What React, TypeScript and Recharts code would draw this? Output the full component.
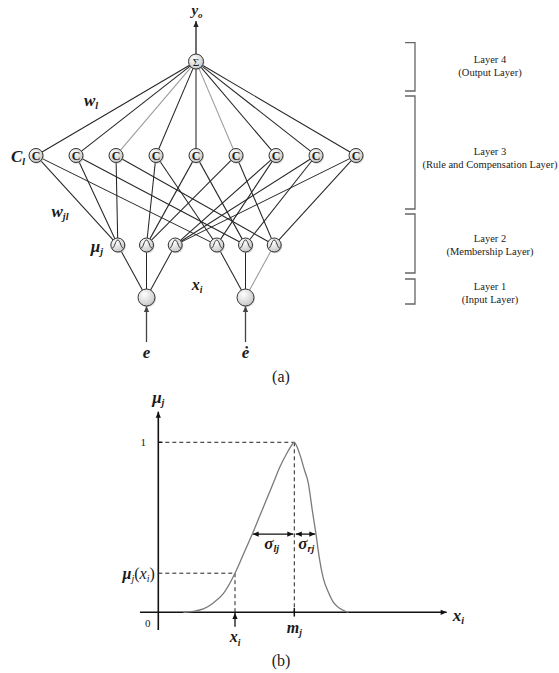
import React from 'react';
import { ComposedChart, LineChart, Line, Scatter, XAxis, YAxis, ReferenceLine, ReferenceDot } from 'recharts';

// (a) network structure
const inputLabels = ['e', 'ė'];
const membershipInputs = [0, 0, 0, 1, 1, 1];
const ruleSymbols = ['C', 'C', 'C', 'C', 'C', 'C', 'C', 'C', 'C'];
const ruleLinks = [[0, 3], [0, 4], [0, 5], [1, 3], [1, 4], [1, 5], [2, 3], [2, 4], [2, 5]];
const layerTitles = ['Layer 4', 'Layer 3', 'Layer 2', 'Layer 1'];
const layerSubtitles = ['(Output Layer)', '(Rule and Compensation Layer)', '(Membership Layer)', '(Input Layer)'];

// (b) membership function
const curveX = [25, 35, 45, 55, 65, 76.7, 85, 94, 101, 108, 115, 122, 128, 132, 136, 139, 142, 146, 150, 154, 157.7, 161, 165, 170, 175, 181, 190];
const curveMu = [0, 0.006, 0.02, 0.055, 0.11, 0.23, 0.34, 0.46, 0.56, 0.66, 0.76, 0.86, 0.93, 0.97, 1, 0.97, 0.92, 0.84, 0.76, 0.6, 0.46, 0.32, 0.2, 0.12, 0.06, 0.025, 0];
const centerM = 136;
const sampleXi = 76.7;
const sampleMu = 0.23;
const sigmaLevel = 0.46;
const sigmaLeftEdge = 94.4;
const sigmaRightEdge = 157;

const curveData = curveX.map((x, i) => ({ x, mu: curveMu[i] }));

// layout of part (a), in pixels
const W = 559;
const A_H = 385;
const CX = 196;
const Y_SUM = 61.5, Y_RULE = 155.5, Y_MU = 245, Y_IN = 297.5;
const RULE_GAP = 40, MU_GAP = 28.7, IN_HALF = 49.5;
const R_SUM = 7.5, R_RULE = 7, R_MU = 7, R_IN = 8.5;
const SERIF = 'Liberation Serif, Times New Roman, serif';
const INK = '#1a1a1a';

const inputNodes = inputLabels.map((label, i) => ({ x: CX + (i === 0 ? -1 : 1) * IN_HALF, y: Y_IN, label }));
const muNodes = membershipInputs.map((inp, j) => ({ x: inputNodes[inp].x + ((j % 3) - 1) * MU_GAP, y: Y_MU }));
const ruleNodes = ruleSymbols.map((label, k) => ({ x: CX + (k - 4) * RULE_GAP, y: Y_RULE, label }));
const sumNode = [{ x: CX, y: Y_SUM, label: 'Σ' }];

const trim = (a: any, ra: number, b: any, rb: number) => {
  const dx = b.x - a.x, dy = b.y - a.y, L = Math.hypot(dx, dy);
  return [
    { x: a.x + (dx * ra) / L, y: a.y + (dy * ra) / L },
    { x: b.x - (dx * rb) / L, y: b.y - (dy * rb) / L },
  ];
};

const faintSum = [2, 5];
const edges: { seg: any[]; faint: boolean }[] = [];
ruleNodes.forEach((r, k) => edges.push({ seg: trim(sumNode[0], R_SUM, r, R_RULE), faint: faintSum.includes(k) }));
ruleNodes.forEach((r, k) => ruleLinks[k].forEach((m) => edges.push({ seg: trim(r, R_RULE, muNodes[m], R_MU), faint: false })));
muNodes.forEach((m, j) => edges.push({ seg: trim(m, R_MU, inputNodes[membershipInputs[j]], R_IN), faint: j === 5 }));

const brackets = [[42.7, 91], [96, 209], [214, 273], [279, 304]];
const layerMid = [66.3, 158, 245, 293];

const headPts = (xa: number, ya: number, xb: number, yb: number, L = 6, w = 2.6) => {
  const ang = Math.atan2(yb - ya, xb - xa);
  const bx = xb - L * Math.cos(ang), by = yb - L * Math.sin(ang);
  const px = -Math.sin(ang) * w, py = Math.cos(ang) * w;
  return `${xb},${yb} ${bx + px},${by + py} ${bx - px},${by - py}`;
};

const Arrow = (p: any) => {
  const { x1, y1, x2, y2, stroke, strokeWidth, both } = p;
  return (
    <g>
      <line x1={x1} y1={y1} x2={x2} y2={y2} stroke={stroke} strokeWidth={strokeWidth} />
      <polygon points={headPts(x1, y1, x2, y2)} fill={stroke} />
      {both && <polygon points={headPts(x2, y2, x1, y1)} fill={stroke} />}
    </g>
  );
};

const Bracket = (p: any) => {
  const { x1, y1, y2 } = p;
  return <path d={`M${x1 - 10},${y1} H${x1} V${y2} H${x1 - 10}`} fill="none" stroke="#666" strokeWidth={1.3} />;
};

const Grad = () => (
  <defs>
    <radialGradient id="nodeFill" cx="38%" cy="32%" r="75%">
      <stop offset="0%" stopColor="#ffffff" />
      <stop offset="100%" stopColor="#c4c4c4" />
    </radialGradient>
  </defs>
);

const Disc = ({ cx, cy, r }: any) => (
  <g>
    <Grad />
    <circle cx={cx + 1} cy={cy + 1.3} r={r} fill="#aaa" opacity={0.5} />
    <circle cx={cx} cy={cy} r={r} fill="url(#nodeFill)" stroke="#333" strokeWidth={1} />
  </g>
);

const SumShape = (p: any) => (
  <g>
    <Disc cx={p.cx} cy={p.cy} r={R_SUM} />
    <text x={p.cx} y={p.cy + 0.5} textAnchor="middle" dominantBaseline="central" fontFamily={SERIF} fontSize={11} fill={INK}>Σ</text>
  </g>
);

const RuleShape = (p: any) => (
  <g>
    <Disc cx={p.cx} cy={p.cy} r={R_RULE} />
    <text x={p.cx} y={p.cy + 0.5} textAnchor="middle" dominantBaseline="central" fontFamily={SERIF} fontWeight="bold" fontSize={12} fill={INK}>C</text>
  </g>
);

const MuShape = (p: any) => {
  const { cx, cy } = p;
  return (
    <g>
      <Disc cx={cx} cy={cy} r={R_MU} />
      <path
        d={`M${cx - 5.5},${cy + 3} C${cx - 3},${cy + 3} ${cx - 2.5},${cy - 5} ${cx},${cy - 5} C${cx + 2.5},${cy - 5} ${cx + 3},${cy + 3} ${cx + 5.5},${cy + 3}`}
        fill="none" stroke="#333" strokeWidth={1}
      />
    </g>
  );
};

const InputShape = (p: any) => <Disc cx={p.cx} cy={p.cy} r={R_IN} />;

const MathText = ({ cx, cy, base, sub, size = 16, bold = false, anchor = 'middle', italic = true }: any) => (
  <text x={cx} y={cy} textAnchor={anchor} dominantBaseline="central" fontFamily={SERIF}
    fontStyle={italic ? 'italic' : 'normal'} fontWeight={bold ? 'bold' : 'normal'} fontSize={size} fill={INK}>
    {base}
    {sub && <tspan fontSize={size * 0.6} dy={size * 0.3}>{sub}</tspan>}
  </text>
);

const lab = (x: number, y: number, props: any, key: string) => (
  <ReferenceDot key={key} x={x} y={y} ifOverflow="visible" shape={(p: any) => <MathText cx={p.cx} cy={p.cy} {...props} />} />
);

const MuOfX = (p: any) => (
  <text x={p.cx} y={p.cy} textAnchor="end" dominantBaseline="central" fontFamily={SERIF} fontSize={16} fill={INK}>
    <tspan fontStyle="italic" fontWeight="bold">μ</tspan>
    <tspan fontSize={10} dy={5} fontStyle="italic">j</tspan>
    <tspan dy={-5}>(</tspan>
    <tspan fontStyle="italic">x</tspan>
    <tspan fontSize={10} dy={5} fontStyle="italic">i</tspan>
    <tspan dy={-5}>)</tspan>
  </text>
);

export default function App() {
  return (
    <div style={{ position: 'absolute', left: 0, top: 0, width: W, height: 673, background: '#fff' }}>
      <div style={{ position: 'absolute', left: 0, top: 0 }}>
        <ComposedChart width={W} height={A_H} margin={{ top: 0, right: 0, bottom: 0, left: 0 }}>
          <XAxis type="number" dataKey="x" domain={[0, W]} allowDataOverflow hide />
          <YAxis type="number" dataKey="y" domain={[0, A_H]} allowDataOverflow reversed hide />
          {edges.map((e, i) => (
            <ReferenceLine key={`e${i}`} segment={e.seg} stroke={e.faint ? '#9a9a9a' : '#262626'} strokeWidth={1.05} ifOverflow="visible" />
          ))}
          <ReferenceLine segment={[{ x: CX, y: Y_SUM - R_SUM }, { x: CX, y: 21 }]} stroke="#222" strokeWidth={1.3} ifOverflow="visible" shape={(p: any) => <Arrow {...p} />} />
          {inputNodes.map((n, i) => (
            <ReferenceLine key={`in${i}`} segment={[{ x: n.x, y: 342 }, { x: n.x, y: Y_IN + R_IN }]} stroke="#444" strokeWidth={1.3} ifOverflow="visible" shape={(p: any) => <Arrow {...p} />} />
          ))}
          {brackets.map((b, i) => (
            <ReferenceLine key={`b${i}`} segment={[{ x: 415, y: b[0] }, { x: 415, y: b[1] }]} stroke="#666" ifOverflow="visible" shape={(p: any) => <Bracket {...p} />} />
          ))}
          {layerTitles.map((t, i) => (
            <ReferenceDot key={`l${i}`} x={490} y={layerMid[i]} ifOverflow="visible" shape={(p: any) => (
              <text textAnchor="middle" fontFamily={SERIF} fontSize={10.5} fill="#222">
                <tspan x={p.cx} y={p.cy - 6.5} dominantBaseline="central">{t}</tspan>
                <tspan x={p.cx} y={p.cy + 6.5} dominantBaseline="central">{layerSubtitles[i]}</tspan>
              </text>
            )} />
          ))}
          <Scatter data={inputNodes} isAnimationActive={false} shape={InputShape} />
          <Scatter data={muNodes} isAnimationActive={false} shape={MuShape} />
          <Scatter data={ruleNodes} isAnimationActive={false} shape={RuleShape} />
          <Scatter data={sumNode} isAnimationActive={false} shape={SumShape} />
          {lab(197, 10, { base: 'y', sub: 'o', size: 15, bold: true }, 'yo')}
          {lab(91, 100, { base: 'w', sub: 'l', size: 17, bold: true }, 'wl')}
          {lab(18, 156, { base: 'C', sub: 'l', size: 17, bold: true }, 'cl')}
          {lab(60, 211, { base: 'w', sub: 'jl', size: 17, bold: true }, 'wjl')}
          {lab(97, 246, { base: 'μ', sub: 'j', size: 17, bold: true }, 'muj')}
          {lab(197, 284, { base: 'x', sub: 'i', size: 16, bold: true }, 'xi')}
          {inputNodes.map((n, i) => lab(n.x, 352, { base: n.label, size: 17, bold: true }, `il${i}`))}
          {lab(281, 376, { base: '(a)', size: 16, italic: false }, 'a')}
        </ComposedChart>
      </div>
      <div style={{ position: 'absolute', left: 0, top: A_H }}>
        <LineChart width={W} height={673 - A_H} data={curveData} margin={{ top: 0, right: 0, bottom: 0, left: 0 }}>
          <XAxis type="number" dataKey="x" domain={[-158.3, 400.7]} allowDataOverflow hide />
          <YAxis type="number" domain={[-0.357, 1.337]} allowDataOverflow hide />
          <ReferenceLine segment={[{ x: 0, y: -0.104 }, { x: 0, y: 1.18 }]} stroke="#111" strokeWidth={1.6} ifOverflow="visible" shape={(p: any) => <Arrow {...p} />} />
          <ReferenceLine segment={[{ x: -18.3, y: 0 }, { x: 288.4, y: 0 }]} stroke="#111" strokeWidth={1.6} ifOverflow="visible" shape={(p: any) => <Arrow {...p} />} />
          <ReferenceLine segment={[{ x: 0, y: 1 }, { x: centerM, y: 1 }]} stroke="#222" strokeDasharray="4 3" ifOverflow="visible" />
          <ReferenceLine segment={[{ x: centerM, y: 1 }, { x: centerM, y: 0 }]} stroke="#222" strokeDasharray="4 3" ifOverflow="visible" />
          <ReferenceLine segment={[{ x: 0, y: sampleMu }, { x: sampleXi, y: sampleMu }]} stroke="#222" strokeDasharray="4 3" ifOverflow="visible" />
          <ReferenceLine segment={[{ x: sampleXi, y: sampleMu }, { x: sampleXi, y: 0 }]} stroke="#222" strokeDasharray="4 3" ifOverflow="visible" />
          <ReferenceLine segment={[{ x: 0, y: 1 }, { x: 4, y: 1 }]} stroke="#111" strokeWidth={1.3} ifOverflow="visible" />
          <ReferenceLine segment={[{ x: centerM, y: -0.025 }, { x: centerM, y: 0.025 }]} stroke="#111" strokeWidth={1.5} ifOverflow="visible" />
          <ReferenceLine segment={[{ x: sampleXi, y: -0.085 }, { x: sampleXi, y: -0.004 }]} stroke="#111" strokeWidth={1.3} ifOverflow="visible" shape={(p: any) => <Arrow {...p} />} />
          <ReferenceLine segment={[{ x: sigmaLeftEdge, y: sigmaLevel }, { x: centerM - 1, y: sigmaLevel }]} stroke="#111" strokeWidth={1.3} ifOverflow="visible" shape={(p: any) => <Arrow {...p} both />} />
          <ReferenceLine segment={[{ x: centerM + 1.5, y: sigmaLevel }, { x: sigmaRightEdge, y: sigmaLevel }]} stroke="#111" strokeWidth={1.3} ifOverflow="visible" shape={(p: any) => <Arrow {...p} both />} />
          <Line type="monotone" dataKey="mu" stroke="#7a7a7a" strokeWidth={1.3} dot={false} isAnimationActive={false} />
          {lab(0, 1.266, { base: 'μ', sub: 'j', size: 17, bold: true }, 'bmu')}
          {lab(-15, 1, { base: '1', size: 11, italic: false }, 'one')}
          {lab(-10.6, -0.061, { base: '0', size: 11, italic: false }, 'zero')}
          {lab(centerM, -0.088, { base: 'm', sub: 'j', size: 16, bold: true }, 'mj')}
          {lab(sampleXi, -0.145, { base: 'x', sub: 'i', size: 16, bold: true }, 'bxi')}
          {lab(300, -0.016, { base: 'x', sub: 'i', size: 17, bold: true }, 'axis')}
          {lab(113.4, 0.406, { base: 'σ', sub: 'lj', size: 17, bold: true }, 'sl')}
          {lab(148, 0.406, { base: 'σ', sub: 'rj', size: 17, bold: true }, 'sr')}
          {lab(122.7, -0.281, { base: '(b)', size: 16, italic: false }, 'b')}
          <ReferenceDot x={-3.5} y={sampleMu} ifOverflow="visible" shape={MuOfX} />
        </LineChart>
      </div>
    </div>
  );
}
